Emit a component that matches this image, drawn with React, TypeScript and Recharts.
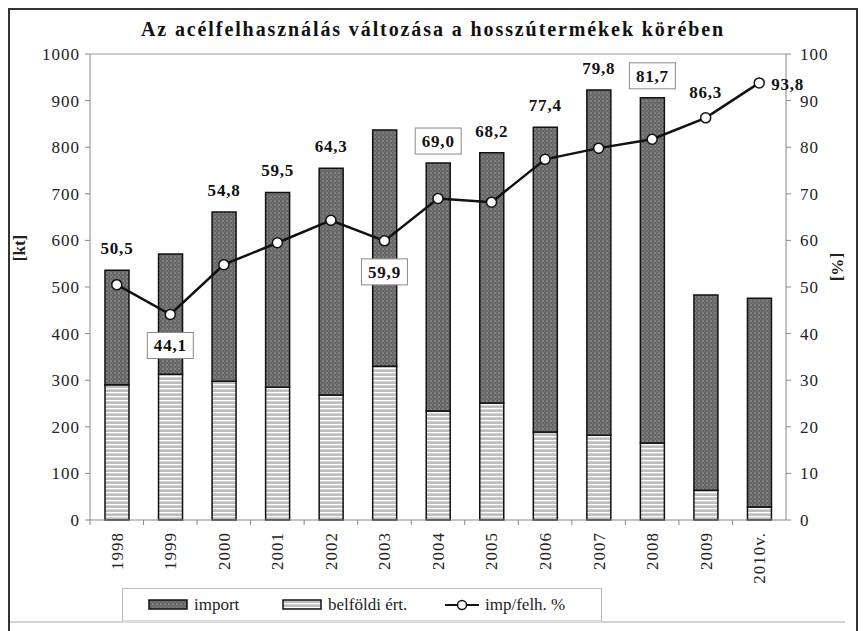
import { ComposedChart, Bar, Line, XAxis, YAxis, ReferenceLine, LabelList } from "recharts"

const years = ["1998", "1999", "2000", "2001", "2002", "2003", "2004", "2005", "2006", "2007", "2008", "2009", "2010v."]
// stacked bars in kt
const belfoldiKt = [290, 313, 298, 285, 268, 330, 234, 251, 189, 182, 165, 64, 28]
const importKt = [246, 258, 363, 418, 487, 507, 532, 537, 654, 741, 741, 419, 448]
// import share of consumption, %
const impShare = [50.5, 44.1, 54.8, 59.5, 64.3, 59.9, 69.0, 68.2, 77.4, 79.8, 81.7, 86.3, 93.8]
const leftTicks = [0, 100, 200, 300, 400, 500, 600, 700, 800, 900, 1000]
const rightTicks = [0, 10, 20, 30, 40, 50, 60, 70, 80, 90, 100]
// where each % label sits: over the bar, below / above the point, right of it
const labelAnchor = ["bar", "below", "bar", "bar", "bar", "below", "bar", "bar", "bar", "bar", "bar", "above", "right"]
const boxed = [false, true, false, false, false, true, true, false, false, false, true, false, false]

const data = years.map((y, i) => ({
  year: y,
  belfoldi: belfoldiKt[i],
  import: importKt[i],
  pct: impShare[i],
}))

const FONT = '"Liberation Serif", "Times New Roman", serif'
const W = 846
const H = 600
const LEFT_W = 80
const RIGHT_W = 70
const BAND = (W - LEFT_W - RIGHT_W) / years.length

const fmt = (v: number) => v.toFixed(1).replace(".", ",")

function Patterns({ p }: { p: string }) {
  return (
    <defs>
      <pattern id={p + "imp"} width="4" height="4" patternUnits="userSpaceOnUse">
        <rect width="4" height="4" fill="#676767" />
        <circle cx="1" cy="1" r="0.7" fill="#aaaaaa" />
        <circle cx="3" cy="3" r="0.6" fill="#888888" />
      </pattern>
      <pattern id={p + "bel"} width="4" height="4" patternUnits="userSpaceOnUse">
        <rect width="4" height="4" fill="#bebebe" />
        <rect y="0" width="4" height="1.3" fill="#ffffff" />
      </pattern>
    </defs>
  )
}

function pctLabel(kinds: string[]) {
  return (props: any) => {
    let i = props.index
    if (i === undefined) i = impShare.indexOf(props.value)
    if (i < 0 || !kinds.includes(labelAnchor[i])) return null
    const vb = props.viewBox || {}
    const x = vb.x ?? props.x
    const y = vb.y ?? props.y
    const w = vb.width ?? props.width ?? 0
    let cx = x + w / 2
    let cy = y - 22
    let anchor: "middle" | "start" = "middle"
    if (labelAnchor[i] === "below") cy = y + 31
    if (labelAnchor[i] === "above") cy = y - 26
    if (labelAnchor[i] === "right") {
      cx = x + 12
      cy = y + 1
      anchor = "start"
    }
    const txt = fmt(impShare[i])
    const bw = 46
    return (
      <g>
        {boxed[i] && (
          <rect x={cx - bw / 2} y={cy - 13} width={bw} height={26} fill="#fff" stroke="#8a8a8a" strokeWidth={1} />
        )}
        <text x={cx} y={cy} dy="0.35em" textAnchor={anchor} fontFamily={FONT} fontSize={17} fontWeight="bold"
          letterSpacing={0.8} fill="#111">
          {txt}
        </text>
      </g>
    )
  }
}

function YearTick(props: any) {
  const { x, y, payload } = props
  return (
    <g transform={`translate(${x},${y})`}>
      <line x1={-BAND / 2} x2={-BAND / 2} y1={0} y2={5} stroke="#888" />
      <text transform="rotate(-90)" x={-12} y={0} dy="0.35em" textAnchor="end" fontFamily={FONT} fontSize={17}
        letterSpacing={1} fill="#222">
        {payload.value}
      </text>
    </g>
  )
}

function ValueTick(props: any) {
  const { x, y, payload, textAnchor } = props
  return (
    <text x={x} y={y} dy="0.35em" textAnchor={textAnchor} fontFamily={FONT} fontSize={17} letterSpacing={1} fill="#222">
      {payload.value}
    </text>
  )
}

function LegendBox() {
  const item: any = { position: "absolute", top: 0, height: 31, display: "flex", alignItems: "center", gap: 6, whiteSpace: "nowrap" }
  return (
    <div style={{
      position: "absolute", left: 114, top: 580, width: 478, height: 31,
      border: "1px solid #bbb", borderBottom: "3px solid #ddd", background: "#fff",
      fontFamily: FONT, fontSize: 17, color: "#222",
    }}>
      <svg width="0" height="0" style={{ position: "absolute" }}><Patterns p="lg" /></svg>
      <div style={{ ...item, left: 25 }}>
        <svg width="40" height="11"><rect x="1" y="1" width="38" height="9" fill="url(#lgimp)" stroke="#111" strokeWidth="1.5" /></svg>
        import
      </div>
      <div style={{ ...item, left: 159 }}>
        <svg width="40" height="11"><rect x="1" y="1" width="38" height="9" fill="url(#lgbel)" stroke="#111" strokeWidth="1.5" /></svg>
        belföldi ért.
      </div>
      <div style={{ ...item, left: 322 }}>
        <svg width="34" height="12">
          <line x1="0" x2="34" y1="6" y2="6" stroke="#111" strokeWidth="2" />
          <circle cx="17" cy="6" r="4.5" fill="#fff" stroke="#111" strokeWidth="1.5" />
        </svg>
        imp/felh. %
      </div>
    </div>
  )
}

export default function App() {
  // frame sits on the body's content box; chart starts 2px inside it
  return (
    <div style={{ position: "relative", width: 850, height: 623, background: "#fff", fontFamily: FONT, overflow: "hidden" }}>
      <div style={{
        position: "absolute", left: 0, top: 0, width: 850, height: 640, boxSizing: "border-box",
        border: "2px solid #333", pointerEvents: "none", zIndex: 2,
      }} />
      <div style={{
        position: "absolute", top: 10, left: 2, width: W, textAlign: "center",
        fontFamily: FONT, fontWeight: "bold", fontSize: 20, letterSpacing: 1.9, color: "#111",
      }}>
        Az acélfelhasználás változása a hosszútermékek körében
      </div>
      <div style={{ position: "absolute", left: 2, top: 0 }}>
        <ComposedChart width={W} height={H} data={data} barCategoryGap="28%"
          margin={{ top: 46, right: 0, left: 0, bottom: 28 }}>
          <Patterns p="ch" />
          <XAxis dataKey="year" height={60} interval={0} tickSize={0} tickMargin={0}
            tickLine={false} axisLine={{ stroke: "#888" }} tick={<YearTick />} />
          <YAxis yAxisId="left" width={LEFT_W} domain={[0, 1000]} ticks={leftTicks} interval={0}
            axisLine={{ stroke: "#888" }} tickLine={{ stroke: "#888" }} tickSize={5} tickMargin={5}
            tick={<ValueTick />}
            label={() => (
              <text x={9} y={240} transform="rotate(-90 9 240)" textAnchor="middle" dy="0.35em"
                fontFamily={FONT} fontSize={17} fontWeight="bold" fill="#222">[kt]</text>
            )} />
          <YAxis yAxisId="right" orientation="right" width={RIGHT_W} domain={[0, 100]} ticks={rightTicks} interval={0}
            axisLine={{ stroke: "#888" }} tickLine={{ stroke: "#888" }} tickSize={5} tickMargin={9}
            tick={<ValueTick />}
            label={() => (
              <text x={828} y={259} transform="rotate(90 828 259)" textAnchor="middle" dy="0.35em"
                fontFamily={FONT} fontSize={17} fontWeight="bold" fill="#222">[%]</text>
            )} />
          <ReferenceLine yAxisId="left" y={1000} stroke="#999" />
          <Bar yAxisId="left" dataKey="belfoldi" stackId="a" fill="url(#chbel)" stroke="#111" strokeWidth={1.5}
            isAnimationActive={false} />
          <Bar yAxisId="left" dataKey="import" stackId="a" fill="url(#chimp)" stroke="#111" strokeWidth={1.5}
            isAnimationActive={false}>
            <LabelList dataKey="pct" content={pctLabel(["bar"])} />
          </Bar>
          <Line yAxisId="right" dataKey="pct" type="linear" stroke="#111" strokeWidth={2.5}
            dot={{ r: 5, fill: "#fff", stroke: "#111", strokeWidth: 1.5 }} isAnimationActive={false}>
            <LabelList dataKey="pct" content={pctLabel(["below", "above", "right"])} />
          </Line>
        </ComposedChart>
      </div>
      <div style={{ position: "absolute", top: 613, left: 2, width: 835, height: 2, background: "#d4d4d4" }} />
      <LegendBox />
    </div>
  )
}
